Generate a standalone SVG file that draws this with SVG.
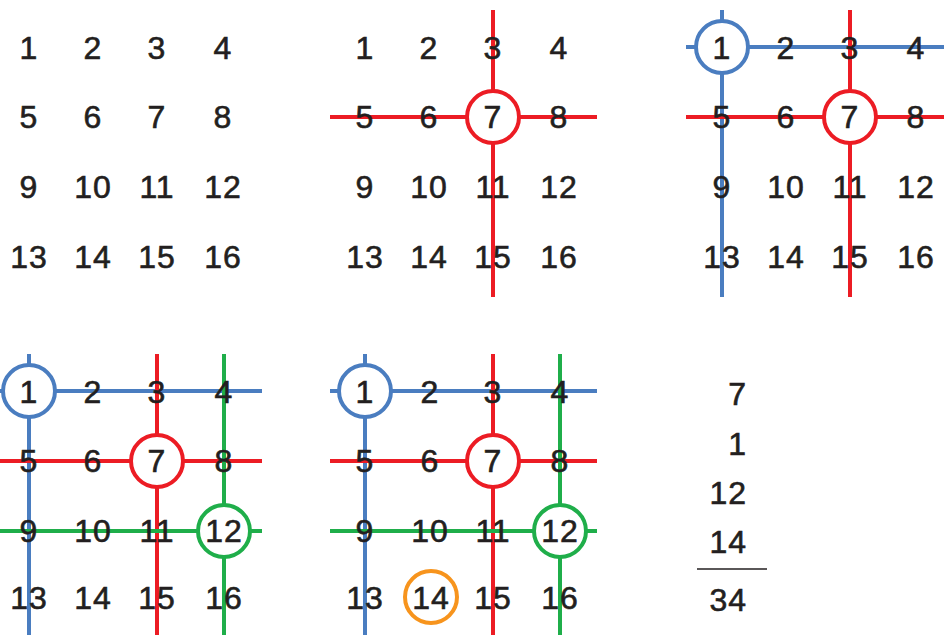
<svg xmlns="http://www.w3.org/2000/svg" width="944" height="635" viewBox="0 0 944 635">
<style>
text{font-family:"Liberation Sans",Arial,sans-serif;font-size:32px;fill:#231F20;stroke:#231F20;stroke-width:0.6px;text-anchor:middle;letter-spacing:1px}
.r{stroke:#EC1C24;stroke-width:4;fill:none}
.b{stroke:#4A7DC0;stroke-width:4;fill:none}
.g{stroke:#1FAE4A;stroke-width:4;fill:none}
.o{stroke:#F7941D;stroke-width:4;fill:none}
#circles circle{fill:#fff}
text.sum{text-anchor:end}
</style>
<rect width="944" height="635" fill="#fff"/>
<g id="connectors">
<line class="r" x1="493" y1="10" x2="493" y2="297"/>
<line class="r" x1="330" y1="117" x2="597" y2="117"/>
<line class="b" x1="722" y1="10" x2="722" y2="297"/>
<line class="b" x1="686" y1="47" x2="944" y2="47"/>
<line class="r" x1="850" y1="10" x2="850" y2="297"/>
<line class="r" x1="686" y1="117" x2="944" y2="117"/>
<line class="b" x1="29" y1="354" x2="29" y2="635"/>
<line class="b" x1="0" y1="391" x2="262" y2="391"/>
<line class="r" x1="157" y1="354" x2="157" y2="635"/>
<line class="r" x1="0" y1="461" x2="262" y2="461"/>
<line class="g" x1="224" y1="354" x2="224" y2="635"/>
<line class="g" x1="0" y1="531" x2="262" y2="531"/>
<line class="b" x1="365" y1="354" x2="365" y2="635"/>
<line class="b" x1="330" y1="391" x2="597" y2="391"/>
<line class="r" x1="493" y1="354" x2="493" y2="635"/>
<line class="r" x1="330" y1="461" x2="597" y2="461"/>
<line class="g" x1="560" y1="354" x2="560" y2="635"/>
<line class="g" x1="330" y1="531" x2="597" y2="531"/>
<line x1="697" y1="569" x2="767" y2="569" stroke="#231F20" stroke-width="1.6"/>
</g>
<g id="circles">
<circle class="r" cx="493" cy="117" r="26"/>
<circle class="b" cx="722" cy="47" r="26"/>
<circle class="r" cx="850" cy="117" r="26"/>
<circle class="b" cx="29" cy="391" r="26"/>
<circle class="r" cx="157" cy="461" r="26"/>
<circle class="g" cx="224" cy="531" r="26"/>
<circle class="b" cx="365" cy="391" r="26"/>
<circle class="r" cx="493" cy="461" r="26"/>
<circle class="g" cx="560" cy="531" r="26"/>
<circle class="o" cx="431" cy="597" r="26"/>
</g>
<g id="grid-top-left">
<text x="29" y="59">1</text><text x="93" y="59">2</text><text x="157" y="59">3</text><text x="223" y="59">4</text>
<text x="29" y="128">5</text><text x="93" y="128">6</text><text x="157" y="128">7</text><text x="223" y="128">8</text>
<text x="29" y="198">9</text><text x="93" y="198">10</text><text x="157" y="198">11</text><text x="223" y="198">12</text>
<text x="29" y="268">13</text><text x="93" y="268">14</text><text x="157" y="268">15</text><text x="223" y="268">16</text>
</g>
<g id="grid-top-middle">
<text x="365" y="59">1</text><text x="429" y="59">2</text><text x="493" y="59">3</text><text x="559" y="59">4</text>
<text x="365" y="128">5</text><text x="429" y="128">6</text><text x="493" y="128">7</text><text x="559" y="128">8</text>
<text x="365" y="198">9</text><text x="429" y="198">10</text><text x="493" y="198">11</text><text x="559" y="198">12</text>
<text x="365" y="268">13</text><text x="429" y="268">14</text><text x="493" y="268">15</text><text x="559" y="268">16</text>
</g>
<g id="grid-top-right">
<text x="722" y="59">1</text><text x="786" y="59">2</text><text x="850" y="59">3</text><text x="916" y="59">4</text>
<text x="722" y="128">5</text><text x="786" y="128">6</text><text x="850" y="128">7</text><text x="916" y="128">8</text>
<text x="722" y="198">9</text><text x="786" y="198">10</text><text x="850" y="198">11</text><text x="916" y="198">12</text>
<text x="722" y="268">13</text><text x="786" y="268">14</text><text x="850" y="268">15</text><text x="916" y="268">16</text>
</g>
<g id="grid-bottom-left">
<text x="29" y="403">1</text><text x="93" y="403">2</text><text x="157" y="403">3</text><text x="224" y="403">4</text>
<text x="29" y="472">5</text><text x="93" y="472">6</text><text x="157" y="472">7</text><text x="224" y="472">8</text>
<text x="29" y="542">9</text><text x="93" y="542">10</text><text x="157" y="542">11</text><text x="224" y="542">12</text>
<text x="29" y="609">13</text><text x="93" y="609">14</text><text x="157" y="609">15</text><text x="224" y="609">16</text>
</g>
<g id="grid-bottom-middle">
<text x="365" y="403">1</text><text x="430" y="403">2</text><text x="493" y="403">3</text><text x="560" y="403">4</text>
<text x="365" y="472">5</text><text x="430" y="472">6</text><text x="493" y="472">7</text><text x="560" y="472">8</text>
<text x="365" y="542">9</text><text x="430" y="542">10</text><text x="493" y="542">11</text><text x="560" y="542">12</text>
<text x="365" y="609">13</text><text x="431" y="609">14</text><text x="493" y="609">15</text><text x="560" y="609">16</text>
</g>
<g id="sum">
<text class="sum" x="747" y="405">7</text>
<text class="sum" x="747" y="455">1</text>
<text class="sum" x="747" y="504">12</text>
<text class="sum" x="747" y="553">14</text>
<text class="sum" x="747" y="611">34</text>
</g>
</svg>
